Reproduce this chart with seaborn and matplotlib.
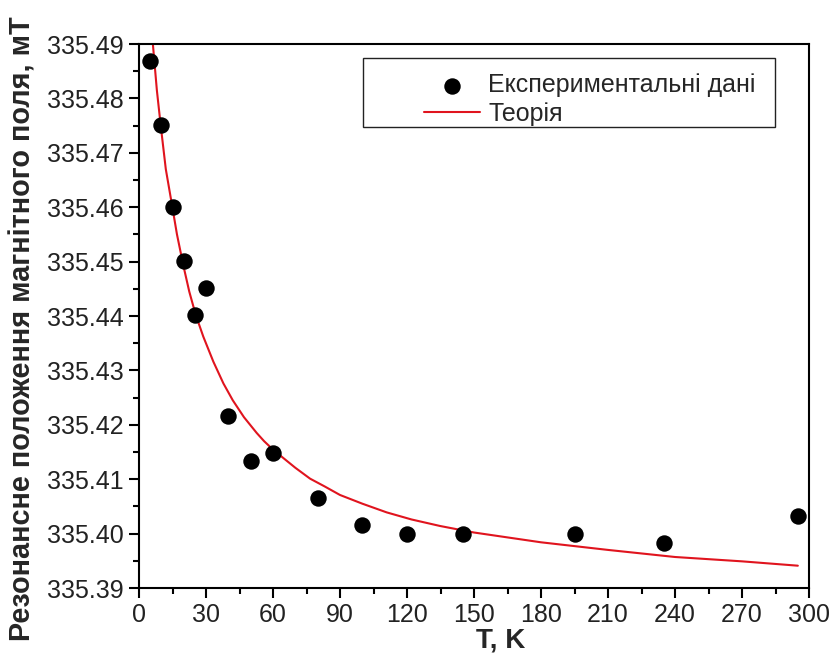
import matplotlib
matplotlib.use("Agg")
import matplotlib.pyplot as plt
from matplotlib.ticker import MultipleLocator, FormatStrFormatter
from matplotlib.patches import Rectangle
import seaborn as sns

# Experimental data
T_exp = [5, 10, 15, 20, 25, 30, 40, 50, 60, 80, 100, 120, 145, 195, 235, 295]
B_exp = [335.4869, 335.4751, 335.4601, 335.4501, 335.4401, 335.4451, 335.4216,
         335.4133, 335.4149, 335.4065, 335.4016, 335.4000, 335.4000, 335.3999,
         335.3982, 335.4032]

# Theory curve
T_th = [5, 6, 8, 9.7, 12, 14.9, 17, 19.9, 22.5, 25.4, 28.8, 33.3, 37.8, 42, 47,
        52.7, 56, 60.1, 66.1, 70, 76.6, 83, 90, 100, 110.9, 122, 134.8, 150,
        165, 180, 210, 240, 270, 295]
B_th = [335.4970, 335.4910, 335.4815, 335.4751, 335.4670, 335.4601, 335.4550,
        335.4492, 335.4445, 335.4402, 335.4362, 335.4316, 335.4276, 335.4245,
        335.4214, 335.4185, 335.4170, 335.4154, 335.4134, 335.4121, 335.4101,
        335.4087, 335.4071, 335.4055, 335.4039, 335.4026, 335.4014, 335.4002,
        335.3993, 335.3984, 335.3970, 335.3957, 335.3949, 335.3941]

x_ticks = [0, 30, 60, 90, 120, 150, 180, 210, 240, 270, 300]

label_exp = "Експериментальні дані"
label_th = "Теорія"
x_label = "T, K"
y_label = "Резонансне положення магнітного поля, мТ"

sns.set_style("ticks")
plt.rcParams["font.family"] = ["Liberation Sans", "DejaVu Sans"]

fig = plt.figure(figsize=(8.32, 6.55), dpi=100)
ax = fig.add_axes([139 / 832, 67 / 655, 670 / 832, 544 / 655])

sns.scatterplot(x=T_exp, y=B_exp, color="black", s=140, linewidth=0,
                label=label_exp, ax=ax, zorder=3)
sns.lineplot(x=T_th, y=B_th, color="#e0141e", linewidth=1.5, label=label_th,
             ax=ax, zorder=2, sort=False)

ax.set_xlim(0, 300)
ax.set_ylim(335.39, 335.49)
ax.set_xticks(x_ticks)
ax.xaxis.set_minor_locator(MultipleLocator(15))
ax.yaxis.set_major_locator(MultipleLocator(0.01))
ax.yaxis.set_minor_locator(MultipleLocator(0.005))
ax.yaxis.set_major_formatter(FormatStrFormatter("%.2f"))

for s in ax.spines.values():
    s.set_linewidth(1.5)
    s.set_color("black")
ax.tick_params(which="major", direction="out", length=7, width=1.5,
               labelsize=18, pad=4, labelcolor="#222222", color="black")
ax.tick_params(which="minor", direction="out", length=4, width=1.5, color="black")

ax.set_xlabel(x_label, fontsize=20, fontweight="bold")
ax.set_ylabel(y_label, fontsize=20.8, fontweight="bold")
ax.xaxis.set_label_coords(0.540, -0.0735)
ax.yaxis.set_label_coords(-0.153, 0.476)

leg = ax.legend(loc="upper left", bbox_to_anchor=(0.4254, 0.946), frameon=False,
                borderpad=0, borderaxespad=0, handlelength=2.24,
                handletextpad=0.32, labelspacing=0.17, fontsize=18)
ax.add_patch(Rectangle((0.3343, 0.8474), 0.615, 0.1269, transform=ax.transAxes,
                       fill=False, edgecolor="#222222", linewidth=1.0, zorder=5))

fig.savefig("out.png", dpi=100)
